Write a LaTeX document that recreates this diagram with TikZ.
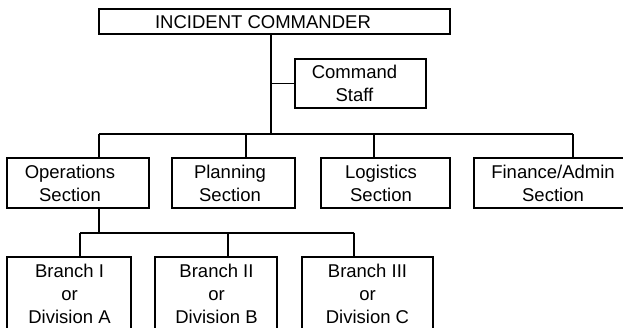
\documentclass[tikz,border=0pt]{standalone}
\usepackage{fontspec}
\setmainfont{Liberation Sans}
\begin{document}
\begin{tikzpicture}[x=1pt,y=-1pt,
  box/.style={draw,line width=1.8pt,inner sep=0pt,anchor=center},
  label/.style={inner sep=0pt,align=center,anchor=center,
    font=\fontsize{18.5}{23}\selectfont},
  link/.style={line width=1.8pt}]
\useasboundingbox (0,0) rectangle (623,327);
% boxes
\node[box,minimum width=351pt,minimum height=25pt] (ic) at (274.5,21.5) {};
\node[box,minimum width=131pt,minimum height=49pt] (cs) at (360.5,83.5) {};
\node[box,minimum width=142pt,minimum height=50pt] (ops) at (78,183) {};
\node[box,minimum width=123pt,minimum height=50pt] (plan) at (233.5,183) {};
\node[box,minimum width=129pt,minimum height=50pt] (log) at (385.5,183) {};
\node[box,minimum width=158pt,minimum height=50pt] (fin) at (553,183) {};
\node[box,minimum width=124pt,minimum height=78pt] (b1) at (69,296) {};
\node[box,minimum width=122pt,minimum height=78pt] (b2) at (216,296) {};
\node[box,minimum width=131pt,minimum height=78pt] (b3) at (367.5,296) {};
% texts
\node[label] (ict) at (263,22) {INCIDENT COMMANDER};
\node[label] (cst) at (354.5,83.5) {Command\\Staff};
\node[label] (opst) at (70,183) {Operations\\Section};
\node[label] (plant) at (230,183) {Planning\\Section};
\node[label] (logt) at (381,183) {Logistics\\Section};
\node[label] (fint) at (553,183) {Finance/Admin\\Section};
\node[label] (b1t) at (69.5,294) {Branch I\\or\\Division A};
\node[label] (b2t) at (216.5,294) {Branch II\\or\\Division B};
\node[label] (b3t) at (367.5,294) {Branch III\\or\\Division C};
% junctions
\coordinate (j1) at (270.7,134);
\coordinate (jops) at (99,134);
\coordinate (jplan) at (246,134);
\coordinate (jlog) at (374,134);
\coordinate (jfin) at (572.7,134);
\coordinate (j2) at (99,232.7);
\coordinate (jb1) at (80,232.7);
\coordinate (jb2) at (228,232.7);
\coordinate (jb3) at (354,232.7);
\draw[link] (ic.south -| j1) -- (j1);
\draw[link] (cs.west) -- (cs.west -| j1);
\draw[link] (jops) -- (jfin);
\draw[link] (jops) -- (ops.north -| jops);
\draw[link] (jplan) -- (plan.north -| jplan);
\draw[link] (jlog) -- (log.north -| jlog);
\draw[link] (jfin) -- (fin.north -| jfin);
\draw[link] (ops.south -| j2) -- (j2);
\draw[link] (jb1) -- (jb3);
\draw[link] (jb1) -- (b1.north -| jb1);
\draw[link] (jb2) -- (b2.north -| jb2);
\draw[link] (jb3) -- (b3.north -| jb3);
\end{tikzpicture}
\end{document}
